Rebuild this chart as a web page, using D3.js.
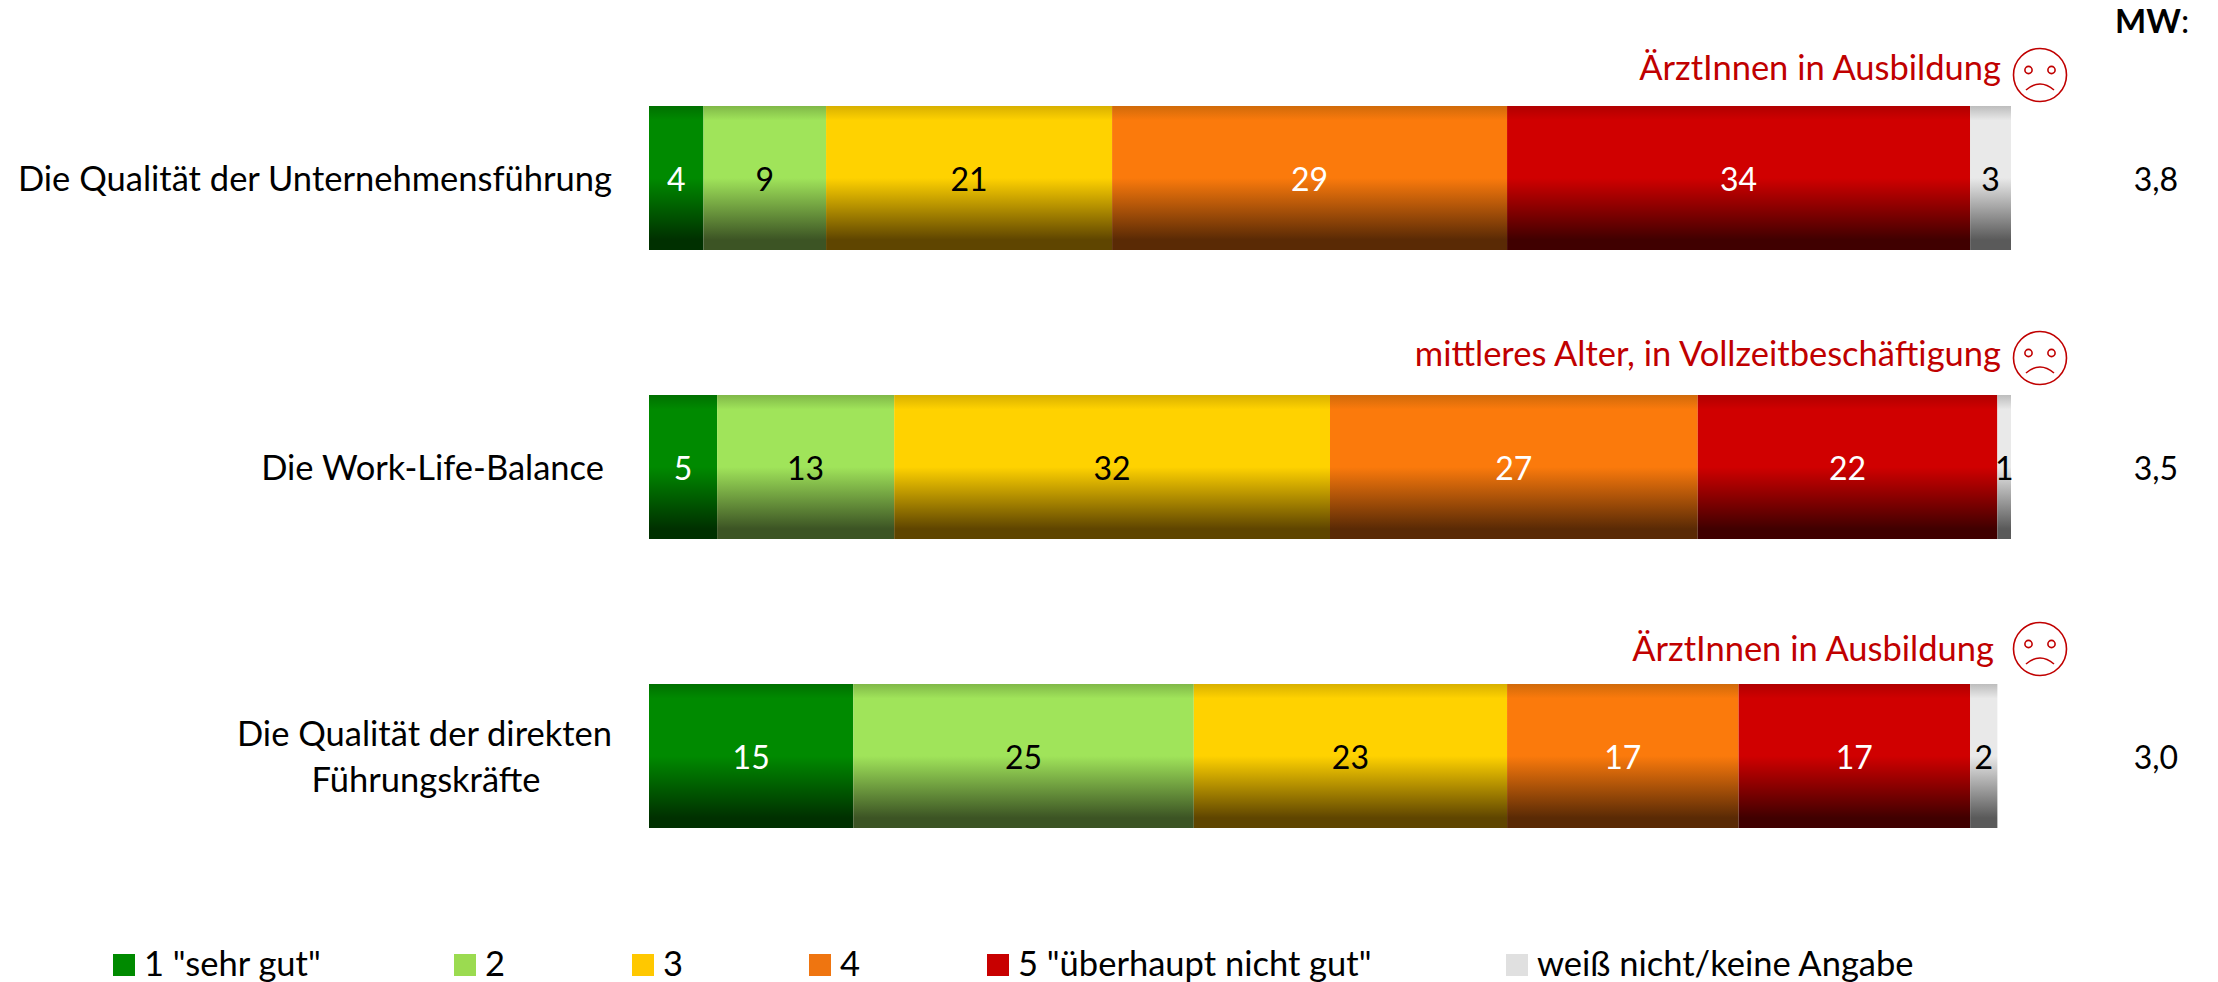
<!DOCTYPE html>
<html><head><meta charset="utf-8">
<script src="https://cdn.jsdelivr.net/npm/d3@7/dist/d3.min.js"></script>
<style>html,body{margin:0;padding:0;background:#fff}svg{display:block}text{font-family:Lato,Carlito,sans-serif}</style>
</head><body><svg id="c" width="2218" height="982"></svg>
<script>
const seriesNames=['1 "sehr gut"','2','3','4','5 "überhaupt nicht gut"','weiß nicht/keine Angabe'];
const rowKeys=['a','b','c'];
const rowLabels=[['Die Qualität der Unternehmensführung'],['Die Work-Life-Balance'],['Die Qualität der direkten','Führungskräfte']];
const rowValues=[[4,9,21,29,34,3],[5,13,32,27,22,1],[15,25,23,17,17,2]];
const notes=['ÄrztInnen in Ausbildung','mittleres Alter, in Vollzeitbeschäftigung','ÄrztInnen in Ausbildung'];
const meanValues=['3,8','3,5','3,0'];
const barColors=['#008a00','#a0e45a','#ffd200','#fb7a0c','#d00000','#e9e9e9'];
const legendColors=['#008a00','#9bdb50','#ffc800','#ef7510','#c80000','#e0e0e0'];
const bottomColors=['#003000','#3c5424','#5f4500','#5a2a05','#400000','#5a5a5a'];
const topColors=['#007000','#80b848','#d8b000','#d06a0a','#b00000','#bdbdbd'];
const labelColors=['#fff','#000','#000','#fff','#fff','#000'];
const legendX=[113,454,632,809,987,1506];
const rowLabelAnchor=[612,604,612];
const noteRight=[2001,2001,1994];
const noteTextOffset=[-38,-41,-35];
const faceOffset=[-31,-37,-35];

const svg=d3.select('#c');
const x=d3.scaleLinear().domain([0,100]).range([649,2011]);
const defs=svg.append('defs');
barColors.forEach((c,i)=>{
  const g=defs.append('linearGradient').attr('id','g'+i).attr('x1',0).attr('x2',0).attr('y1',0).attr('y2',1);
  [[0,topColors[i]],[.1,c],[.5,c],[.93,bottomColors[i]],[1,bottomColors[i]]]
   .forEach(s=>g.append('stop').attr('offset',s[0]).attr('stop-color',s[1]));
});
const bh=144, fs=34.5, numFs=32;
rowKeys.forEach((k,r)=>{
  const top=106+289*r, cy=top+bh/2;
  const stack=d3.cumsum(rowValues[r]);
  const G=svg.append('g');
  G.selectAll('rect').data(rowValues[r]).join('rect')
    .attr('x',(d,i)=>x(stack[i]-d)).attr('y',top)
    .attr('width',d=>x(d)-x(0)).attr('height',bh)
    .attr('fill',(d,i)=>`url(#g${i})`);
  G.selectAll('text').data(rowValues[r]).join('text')
    .attr('x',(d,i)=>x(stack[i]-d/2)).attr('y',cy+1).attr('dy','.36em')
    .attr('text-anchor','middle').attr('font-size',numFs)
    .attr('fill',(d,i)=>labelColors[i]).text(d=>d);
  const ls=rowLabels[r];
  if(ls.length===1){
    svg.append('text').attr('x',rowLabelAnchor[r]).attr('y',cy+1).attr('dy','.36em').attr('text-anchor','end').attr('font-size',fs).attr('fill','#000').text(ls[0]);
  } else {
    svg.append('text').attr('x',rowLabelAnchor[r]).attr('y',cy-22).attr('dy','.36em').attr('text-anchor','end').attr('font-size',fs).attr('fill','#000').text(ls[0]);
    svg.append('text').attr('x',426).attr('y',cy+24).attr('dy','.36em').attr('text-anchor','middle').attr('font-size',fs).attr('fill','#000').text(ls[1]);
  }
  svg.append('text').attr('x',2156).attr('y',cy+1).attr('dy','.36em').attr('text-anchor','middle').attr('font-size',numFs).attr('fill','#000').text(meanValues[r]);
  svg.append('text').attr('x',noteRight[r]).attr('y',top+noteTextOffset[r]).attr('dy','.36em').attr('text-anchor','end').attr('font-size',fs).attr('fill','#c00000').text(notes[r]);
  const f=svg.append('g').attr('transform',`translate(2040,${top+faceOffset[r]})`).attr('fill','none').attr('stroke','#c00000').attr('stroke-width',1.6);
  f.append('circle').attr('r',26.5);
  f.append('circle').attr('cx',-11.5).attr('cy',-5).attr('r',3.6);
  f.append('circle').attr('cx',11.5).attr('cy',-5).attr('r',3.6);
  f.append('path').attr('d','M-14,15Q0,3 14,15');
});
const mw=svg.append('text').attr('x',2115).attr('y',33).attr('font-size',33).attr('fill','#000');
mw.append('tspan').attr('font-weight',700).text('MW');
mw.append('tspan').text(':');
seriesNames.forEach((n,i)=>{
  svg.append('rect').attr('x',legendX[i]).attr('y',954).attr('width',22).attr('height',22).attr('fill',legendColors[i]);
  svg.append('text').attr('x',legendX[i]+31).attr('y',964).attr('dy','.36em').attr('font-size',fs).attr('fill','#000').text(n);
});
</script></body></html>
